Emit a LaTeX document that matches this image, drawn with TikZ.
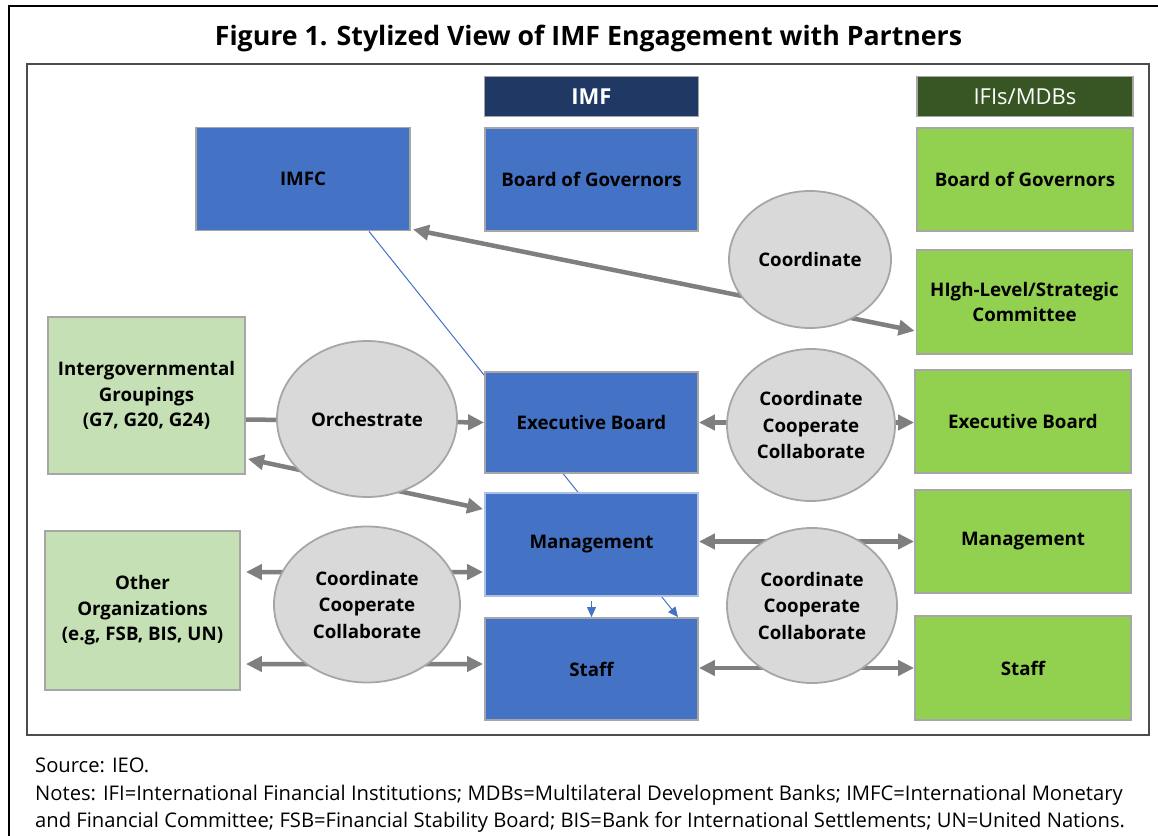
\documentclass[tikz,border=0pt]{standalone}
\usepackage{fontspec}
\setmainfont{Open Sans}
\usetikzlibrary{arrows.meta,calc,shapes.geometric}
\pgfdeclarelayer{bg}
\pgfsetlayers{bg,main}
\definecolor{imfblue}{HTML}{4472C4}
\definecolor{navy}{HTML}{203864}
\definecolor{dkgreen}{HTML}{375623}
\definecolor{ltgreen}{HTML}{92D050}
\definecolor{palegreen}{HTML}{C5E0B4}
\definecolor{ovalgray}{HTML}{D9D9D9}
\definecolor{edgegray}{HTML}{A6A6A6}
\definecolor{arrowgray}{HTML}{7F7F7F}
\tikzset{
  gtip/.tip={Triangle[length=16bp,width=15bp]},
  btip/.tip={Triangle[length=10bp,width=9bp]},
  box/.style={draw=edgegray, line width=1.8bp, inner sep=0pt, align=center,
    text=black, font=\bfseries\fontsize{18.7bp}{25.5bp}\selectfont},
  imfbox/.style={box, fill=imfblue, minimum width=213bp, minimum height=103bp},
  ifibox/.style={box, fill=ltgreen, minimum width=216bp, minimum height=104bp},
  orgbox/.style={box, fill=palegreen},
  hdr/.style={box, minimum width=214bp, minimum height=40bp, text=white,
    font=\fontsize{22bp}{24bp}\selectfont},
  oval/.style={ellipse, draw=edgegray, line width=1.8bp, fill=ovalgray,
    inner sep=0pt, align=center, font=\bfseries\fontsize{18.7bp}{26.5bp}\selectfont},
  garrow/.style={draw=arrowgray, line width=4.5bp},
  barrow/.style={draw=imfblue, line width=1bp},
  foot/.style={anchor=base west, inner sep=0pt, font=\fontsize{20.2bp}{27bp}\selectfont}
}
\begin{document}
\begin{tikzpicture}[x=1bp, y=-1bp]
\useasboundingbox (0,0) rectangle (1158,836);

% outer frame and panel frame
\draw[line width=2.5bp] (9,836) -- (9,6) -- (1158,6);
\draw[black!70, line width=1.2bp] (27,64) rectangle (1149,735);

% title
\node[anchor=base, inner sep=0pt, font=\bfseries\fontsize{26.7bp}{30bp}\selectfont]
  (title) at (588.5,45) {Figure 1. Stylized View of IMF Engagement with Partners};

% column headers
\node[hdr, fill=navy, font=\bfseries\fontsize{22bp}{24bp}\selectfont] (imfhdr) at (591.5,96.5) {IMF};
\node[hdr, fill=dkgreen, minimum width=216bp] (ifihdr) at (1025,96.5) {IFIs/MDBs};

% IMF column
\node[imfbox, minimum width=214bp] (imfc) at (303,179) {IMFC};
\node[imfbox] (imfbog) at (591.5,179.5) {Board of Governors};
\node[imfbox, minimum height=101bp] (imfeb) at (591.5,422.5) {Executive Board};
\node[imfbox, draw=imfblue!45!white] (imfmg) at (591.5,544.5) {Management};
\node[imfbox, minimum height=102bp] (imfst) at (591.5,669) {Staff};

% IFI / MDB column
\node[ifibox, minimum height=103bp] (ifibog) at (1025,179.5) {Board of Governors};
\node[ifibox] (hl) at (1024.5,302) {HIgh-Level/Strategic\\Committee};
\node[ifibox, minimum height=103bp] (ifieb) at (1023,421.5) {Executive Board};
\node[ifibox, minimum height=103bp] (ifimg) at (1023,541.5) {Management};
\node[ifibox] (ifist) at (1023,668) {Staff};

% other partners
\node[orgbox, minimum width=197bp, minimum height=157bp] (igg) at (146.5,395.5)
  {Intergovernmental\\Groupings\\(G7, G20, G24)};
\node[orgbox, minimum width=195bp, minimum height=159bp] (oth) at (142.5,610.5)
  {Other\\Organizations\\(e.g, FSB, BIS, UN)};

% modes of engagement
\node[oval, minimum width=162bp, minimum height=137bp] (coord) at (810,259.5) {Coordinate};
\node[oval, minimum width=180bp, minimum height=156bp] (orch) at (367,419) {Orchestrate};
\node[oval, minimum width=186bp, minimum height=156bp] (lccc) at (367,604.5)
  {Coordinate\\Cooperate\\Collaborate};
\node[oval, minimum width=168bp, minimum height=152bp] (rccc1) at (811,425)
  {Coordinate\\Cooperate\\Collaborate};
\node[oval, minimum width=170bp, minimum height=155bp] (rccc2) at (812,605.5)
  {Coordinate\\Cooperate\\Collaborate};

% connectors, kept behind boxes and ovals
\begin{pgfonlayer}{bg}
  \fill[white] (0,0) rectangle (1158,836);
  \draw[garrow, gtip-gtip] ($(imfc.south east)+(2,-2)$) -- ($(hl.south west)+(-1,-24)$);
  \draw[garrow, -gtip] ($(igg.east)+(0,24)$) -- (imfeb.west);
  \draw[garrow, gtip-gtip] ($(igg.south east)+(2,-16)$) -- ($(imfmg.north west)+(-1,17)$);
  \draw[garrow, gtip-gtip] ($(oth.east)+(5,-38.5)$) -- ($(imfmg.west)+(-1,27.5)$);
  \draw[garrow, gtip-gtip] ($(oth.east)+(5,53.5)$) -- ($(imfst.west)+(-1,-5)$);
  \draw[garrow, gtip-gtip] (imfeb.east) -- (imfeb.east -| ifieb.west);
  \draw[garrow, gtip-gtip] (ifimg.west -| imfmg.east) -- (ifimg.west);
  \draw[garrow, gtip-gtip] (ifist.west -| imfst.east) -- (ifist.west);
  \draw[barrow, -btip] ($(imfc.south)+(66,0)$) -- ($(imfst.north)+(86.5,0)$);
  \draw[barrow, -btip] ($(imfmg.south)+(0,4)$) -- (imfst.north);
\end{pgfonlayer}

% source and notes
\node[foot] (src) at (35,772) {Source: IEO.};
\node[foot] (notes1) at (35,800) {Notes: IFI=International Financial Institutions; MDBs=Multilateral Development Banks; IMFC=International Monetary};
\node[foot] (notes2) at (35,827) {and Financial Committee; FSB=Financial Stability Board; BIS=Bank for International Settlements; UN=United Nations.};
\end{tikzpicture}
\end{document}
